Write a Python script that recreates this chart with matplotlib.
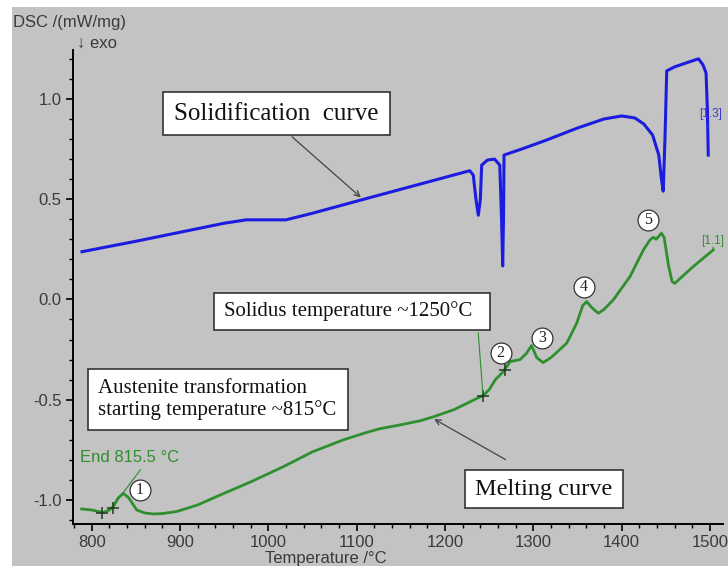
import matplotlib
matplotlib.use("Agg")
import matplotlib.pyplot as plt
from matplotlib.patches import Rectangle
from matplotlib.ticker import MultipleLocator

# solidification (cooling) curve, blue
solid_T = [789, 850, 900, 950, 975, 1020, 1050, 1105, 1126, 1180, 1228, 1232, 1235, 1237.7,
           1240, 1241.5, 1248, 1256, 1262, 1264, 1265.3, 1266.2, 1266.8, 1290, 1315, 1350,
           1380, 1400, 1415, 1425, 1435, 1442, 1445, 1447, 1449, 1451, 1460, 1480, 1487,
           1492, 1495.5, 1497, 1498]
solid_dsc = [0.238, 0.29, 0.335, 0.38, 0.397, 0.397, 0.43, 0.496, 0.521, 0.585, 0.642, 0.62,
             0.5, 0.42, 0.5, 0.67, 0.695, 0.70, 0.67, 0.4, 0.167, 0.4, 0.72, 0.755, 0.795,
             0.855, 0.90, 0.915, 0.905, 0.875, 0.82, 0.72, 0.60, 0.54, 0.80, 1.14, 1.16,
             1.19, 1.20, 1.17, 1.13, 0.95, 0.72]

# melting (heating) curve, green
melt_T = [788.7, 800, 813, 820, 824.5, 830, 835.8, 842, 851, 860, 870, 880, 896, 920, 941.5,
          980, 1017, 1050, 1085, 1110, 1126, 1150, 1172, 1187, 1210, 1236, 1243, 1250, 1257,
          1266, 1273.6, 1285, 1292, 1298, 1303.8, 1311, 1320, 1337.8, 1349, 1356, 1360.4,
          1366, 1373.5, 1380, 1390.5, 1409.4, 1425, 1432, 1436, 1439, 1445, 1448, 1453,
          1457, 1460, 1480, 1503.7]
melt_dsc = [-1.045, -1.05, -1.063, -1.05, -1.033, -0.99, -0.967, -0.99, -1.05, -1.065, -1.07,
            -1.068, -1.058, -1.025, -0.983, -0.91, -0.834, -0.76, -0.70, -0.665, -0.645, -0.625,
            -0.605, -0.585, -0.55, -0.494, -0.48, -0.45, -0.40, -0.36, -0.31, -0.30, -0.27,
            -0.23, -0.29, -0.315, -0.29, -0.218, -0.119, -0.03, -0.011, -0.04, -0.069, -0.05,
            -0.002, 0.114, 0.25, 0.297, 0.31, 0.30, 0.33, 0.31, 0.17, 0.09, 0.08, 0.16, 0.247]

# marked points on the melting curve
cross_T = [811.3, 824.5, 1243, 1268]
cross_dsc = [-1.063, -1.04, -0.48, -0.35]

# circled peak numbers
peak_labels = ['1', '2', '3', '4', '5']
peak_T = [854.7, 1263, 1310, 1357, 1430]
peak_dsc = [-0.95, -0.268, -0.194, 0.064, 0.397]

BG = '#c3c3c3'
BLUE = '#1c1ce0'
GREEN = '#2f8f2f'
W, H = 728, 566


def px(x, y):
    return x / W, 1 - y / H


fig = plt.figure(figsize=(W / 100, H / 100), dpi=100, facecolor='white')
fig.patches.append(Rectangle(px(12, H), (W - 12) / W, (H - 7) / H, transform=fig.transFigure,
                             facecolor=BG, edgecolor='none', zorder=-5))
ax = fig.add_axes([72.7 / W, 1 - 524 / H, (723 - 72.7) / W, (524 - 50) / H])
ax.set_zorder(1)
ax.set_facecolor('none')

ax.plot(solid_T, solid_dsc, color=BLUE, lw=2.2, zorder=3)
ax.plot(melt_T, melt_dsc, color=GREEN, lw=2.0, zorder=3)
ax.plot(cross_T, cross_dsc, ls='none', marker='+', color='#1f3a1f', ms=8, mew=1.1, zorder=4)

for lab, t, v in zip(peak_labels, peak_T, peak_dsc):
    ax.plot(t, v, marker='o', ms=15, mfc='white', mec='#333333', mew=0.9, zorder=5)
    ax.text(t, v, lab, ha='center', va='center', fontsize=11.5, family='Liberation Serif',
            color='#222222', zorder=6)

ax.set_xlim(778.5, 1514.7)
ax.set_ylim(-1.12, 1.244)
ax.xaxis.set_major_locator(MultipleLocator(100))
ax.xaxis.set_minor_locator(MultipleLocator(20))
ax.yaxis.set_major_locator(MultipleLocator(0.5))
ax.yaxis.set_minor_locator(MultipleLocator(0.1))
ax.yaxis.set_major_formatter(matplotlib.ticker.FormatStrFormatter('%.1f'))
for s in ['top', 'right']:
    ax.spines[s].set_visible(False)
for s in ['left', 'bottom']:
    ax.spines[s].set_linewidth(1.4)
ax.tick_params(which='major', length=5, width=1.2, labelsize=12, labelcolor='#3a3a3a', pad=3)
ax.tick_params(which='minor', length=3, width=1.0)
for lbl in ax.get_xticklabels() + ax.get_yticklabels():
    lbl.set_family('Liberation Sans')

sans = ['Liberation Sans', 'DejaVu Sans']
fig.text(*px(13, 22), 'DSC /(mW/mg)', fontsize=12, family=sans, color='#3a3a3a', va='center')
fig.text(*px(77, 43), '\u2193 exo', fontsize=12, family=sans, color='#3a3a3a', va='center')
fig.text(*px(326, 558), 'Temperature /\u00b0C', fontsize=12, family=sans, color='#3a3a3a',
         ha='center', va='center')

# boxed notes
boxes = [
    ((163, 92, 390, 135), 'Solidification  curve', 18, 'center'),
    ((214, 293, 490, 330), 'Solidus temperature ~1250\u00b0C', 15, 'left'),
    ((88, 369, 348, 430), 'Austenite transformation\nstarting temperature ~815\u00b0C', 15, 'left'),
    ((465, 470, 623, 508), 'Melting curve', 17.5, 'center'),
]
for (x0, y0, x1, y1), txt, fs, al in boxes:
    fig.patches.append(Rectangle(px(x0, y1), (x1 - x0) / W, (y1 - y0) / H,
                                 transform=fig.transFigure, facecolor='white',
                                 edgecolor='#333333', lw=1.2, zorder=5))
    tx = (x0 + x1) / 2 if al == 'center' else x0 + 10
    fig.text(*px(tx, (y0 + y1) / 2), txt, fontsize=fs, family='Liberation Serif', ha=al,
             va='center', color='#111111', linespacing=1.15, zorder=6)

arrow = dict(arrowstyle='->', color='#444444', lw=0.9)
ax.annotate('', xy=(1107, 0.50), xytext=px(290, 135), textcoords='figure fraction',
            arrowprops=arrow, zorder=4)
ax.annotate('', xy=(1185, -0.59), xytext=px(508, 461), textcoords='figure fraction',
            arrowprops=arrow, zorder=4)
leader = dict(arrowstyle='-', color=GREEN, lw=0.8)
ax.annotate('', xy=(1243, -0.48), xytext=px(478, 330), textcoords='figure fraction',
            arrowprops=leader, zorder=4)
ax.annotate('End 815.5 \u00b0C', xy=(826.5, -1.017), xytext=px(80, 457),
            textcoords='figure fraction', fontsize=12, family=sans, color=GREEN, va='center',
            arrowprops=dict(arrowstyle='-', color=GREEN, lw=0.8, relpos=(0.65, 0)), zorder=4)
ax.annotate('[1.3]', xy=(1497.5, 0.86), xytext=px(711, 114), textcoords='figure fraction',
            fontsize=8.5, family=sans, color='#3a3acc', ha='center', va='center',
            arrowprops=dict(arrowstyle='-', color='#3a3acc', lw=0.7, relpos=(0.5, 0)), zorder=4)
ax.annotate('[1.1]', xy=(1503, 0.25), xytext=px(713, 241), textcoords='figure fraction',
            fontsize=8.5, family=sans, color=GREEN, ha='center', va='center',
            arrowprops=dict(arrowstyle='-', color=GREEN, lw=0.7, relpos=(0.5, 0)), zorder=4)

plt.savefig('out.png', dpi=100, facecolor=fig.get_facecolor())
